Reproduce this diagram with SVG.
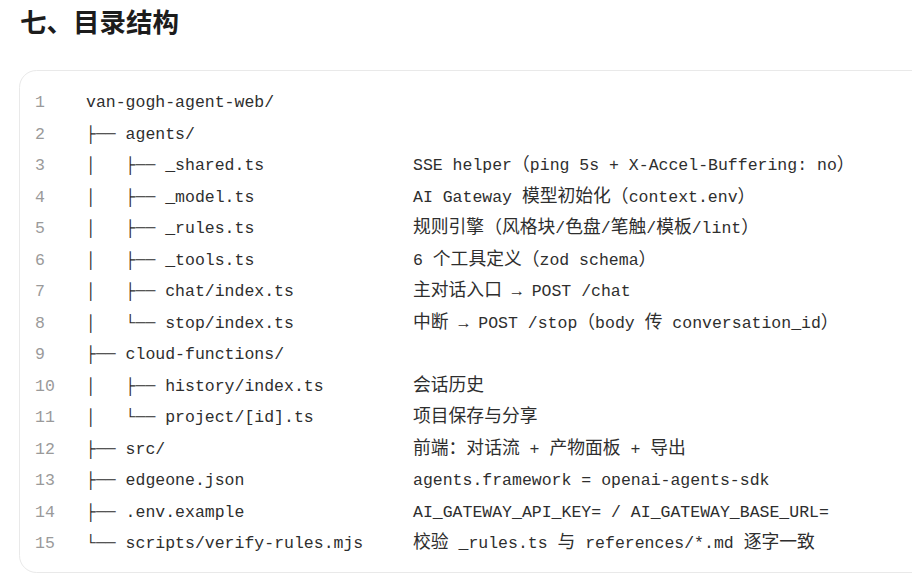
<svg xmlns="http://www.w3.org/2000/svg" width="912" height="582" viewBox="0 0 912 582">
<style>
.t{font-family:"Noto Sans CJK SC","Noto Sans",sans-serif;font-weight:700;font-size:26.5px;fill:#1c1c1c}
.m{font-family:"Liberation Mono","DejaVu Sans Mono","Noto Sans CJK SC",monospace;font-size:16.5px;fill:#2e2e2e}
.n{font-family:"Liberation Mono","DejaVu Sans Mono",monospace;font-size:16.5px;fill:#9a9a9a}
.c{font-family:"Noto Sans CJK SC","Noto Sans",sans-serif;font-size:17.8px}
</style>
<rect width="912" height="582" fill="#ffffff"/>
<text class="t" x="20" y="32">七、目录结构</text>
<rect id="codebox" x="19.5" y="70.5" width="920" height="502" rx="17" ry="17" fill="#ffffff" stroke="#e9e9e9" stroke-width="1"/>
<g id="line-numbers" class="n">
<text x="35" y="107">1</text>
<text x="35" y="138.5">2</text>
<text x="35" y="170">3</text>
<text x="35" y="201.5">4</text>
<text x="35" y="233">5</text>
<text x="35" y="264.5">6</text>
<text x="35" y="296">7</text>
<text x="35" y="327.5">8</text>
<text x="35" y="359">9</text>
<text x="35" y="390.5">10</text>
<text x="35" y="422">11</text>
<text x="35" y="453.5">12</text>
<text x="35" y="485">13</text>
<text x="35" y="516.5">14</text>
<text x="35" y="548">15</text>
</g>
<g id="tree" class="m">
<text x="86" y="107">van-gogh-agent-web/</text>
<text x="86" y="138.5">├── agents/</text>
<text y="170"><tspan x="86">│</tspan><tspan x="125.6">├── _shared.ts</tspan></text>
<text y="201.5"><tspan x="86">│</tspan><tspan x="125.6">├── _model.ts</tspan></text>
<text y="233"><tspan x="86">│</tspan><tspan x="125.6">├── _rules.ts</tspan></text>
<text y="264.5"><tspan x="86">│</tspan><tspan x="125.6">├── _tools.ts</tspan></text>
<text y="296"><tspan x="86">│</tspan><tspan x="125.6">├── chat/index.ts</tspan></text>
<text y="327.5"><tspan x="86">│</tspan><tspan x="125.6">└── stop/index.ts</tspan></text>
<text x="86" y="359">├── cloud-functions/</text>
<text y="390.5"><tspan x="86">│</tspan><tspan x="125.6">├── history/index.ts</tspan></text>
<text y="422"><tspan x="86">│</tspan><tspan x="125.6">└── project/[id].ts</tspan></text>
<text x="86" y="453.5">├── src/</text>
<text x="86" y="485">├── edgeone.json</text>
<text x="86" y="516.5">├── .env.example</text>
<text x="86" y="548">└── scripts/verify-rules.mjs</text>
</g>
<g id="comments" class="m">
<text x="413" y="170">SSE helper<tspan class="c">（</tspan>ping 5s + X-Accel-Buffering: no<tspan class="c">）</tspan></text>
<text x="413" y="201.5">AI Gateway <tspan class="c">模型初始化（</tspan>context.env<tspan class="c">）</tspan></text>
<text x="413" y="233"><tspan class="c">规则引擎（风格块</tspan>/<tspan class="c">色盘</tspan>/<tspan class="c">笔触</tspan>/<tspan class="c">模板</tspan>/lint<tspan class="c">）</tspan></text>
<text x="413" y="264.5">6 <tspan class="c">个工具定义（</tspan>zod schema<tspan class="c">）</tspan></text>
<text x="413" y="296"><tspan class="c">主对话入口</tspan> → POST /chat</text>
<text x="413" y="327.5"><tspan class="c">中断</tspan> → POST /stop<tspan class="c">（</tspan>body <tspan class="c">传</tspan> conversation_id<tspan class="c">）</tspan></text>
<text x="413" y="390.5"><tspan class="c">会话历史</tspan></text>
<text x="413" y="422"><tspan class="c">项目保存与分享</tspan></text>
<text x="413" y="453.5"><tspan class="c">前端：对话流</tspan> + <tspan class="c">产物面板</tspan> + <tspan class="c">导出</tspan></text>
<text x="413" y="485">agents.framework = openai-agents-sdk</text>
<text x="413" y="516.5">AI_GATEWAY_API_KEY= / AI_GATEWAY_BASE_URL=</text>
<text x="413" y="548"><tspan class="c">校验</tspan> _rules.ts <tspan class="c">与</tspan> references/*.md <tspan class="c">逐字一致</tspan></text>
</g>
</svg>
